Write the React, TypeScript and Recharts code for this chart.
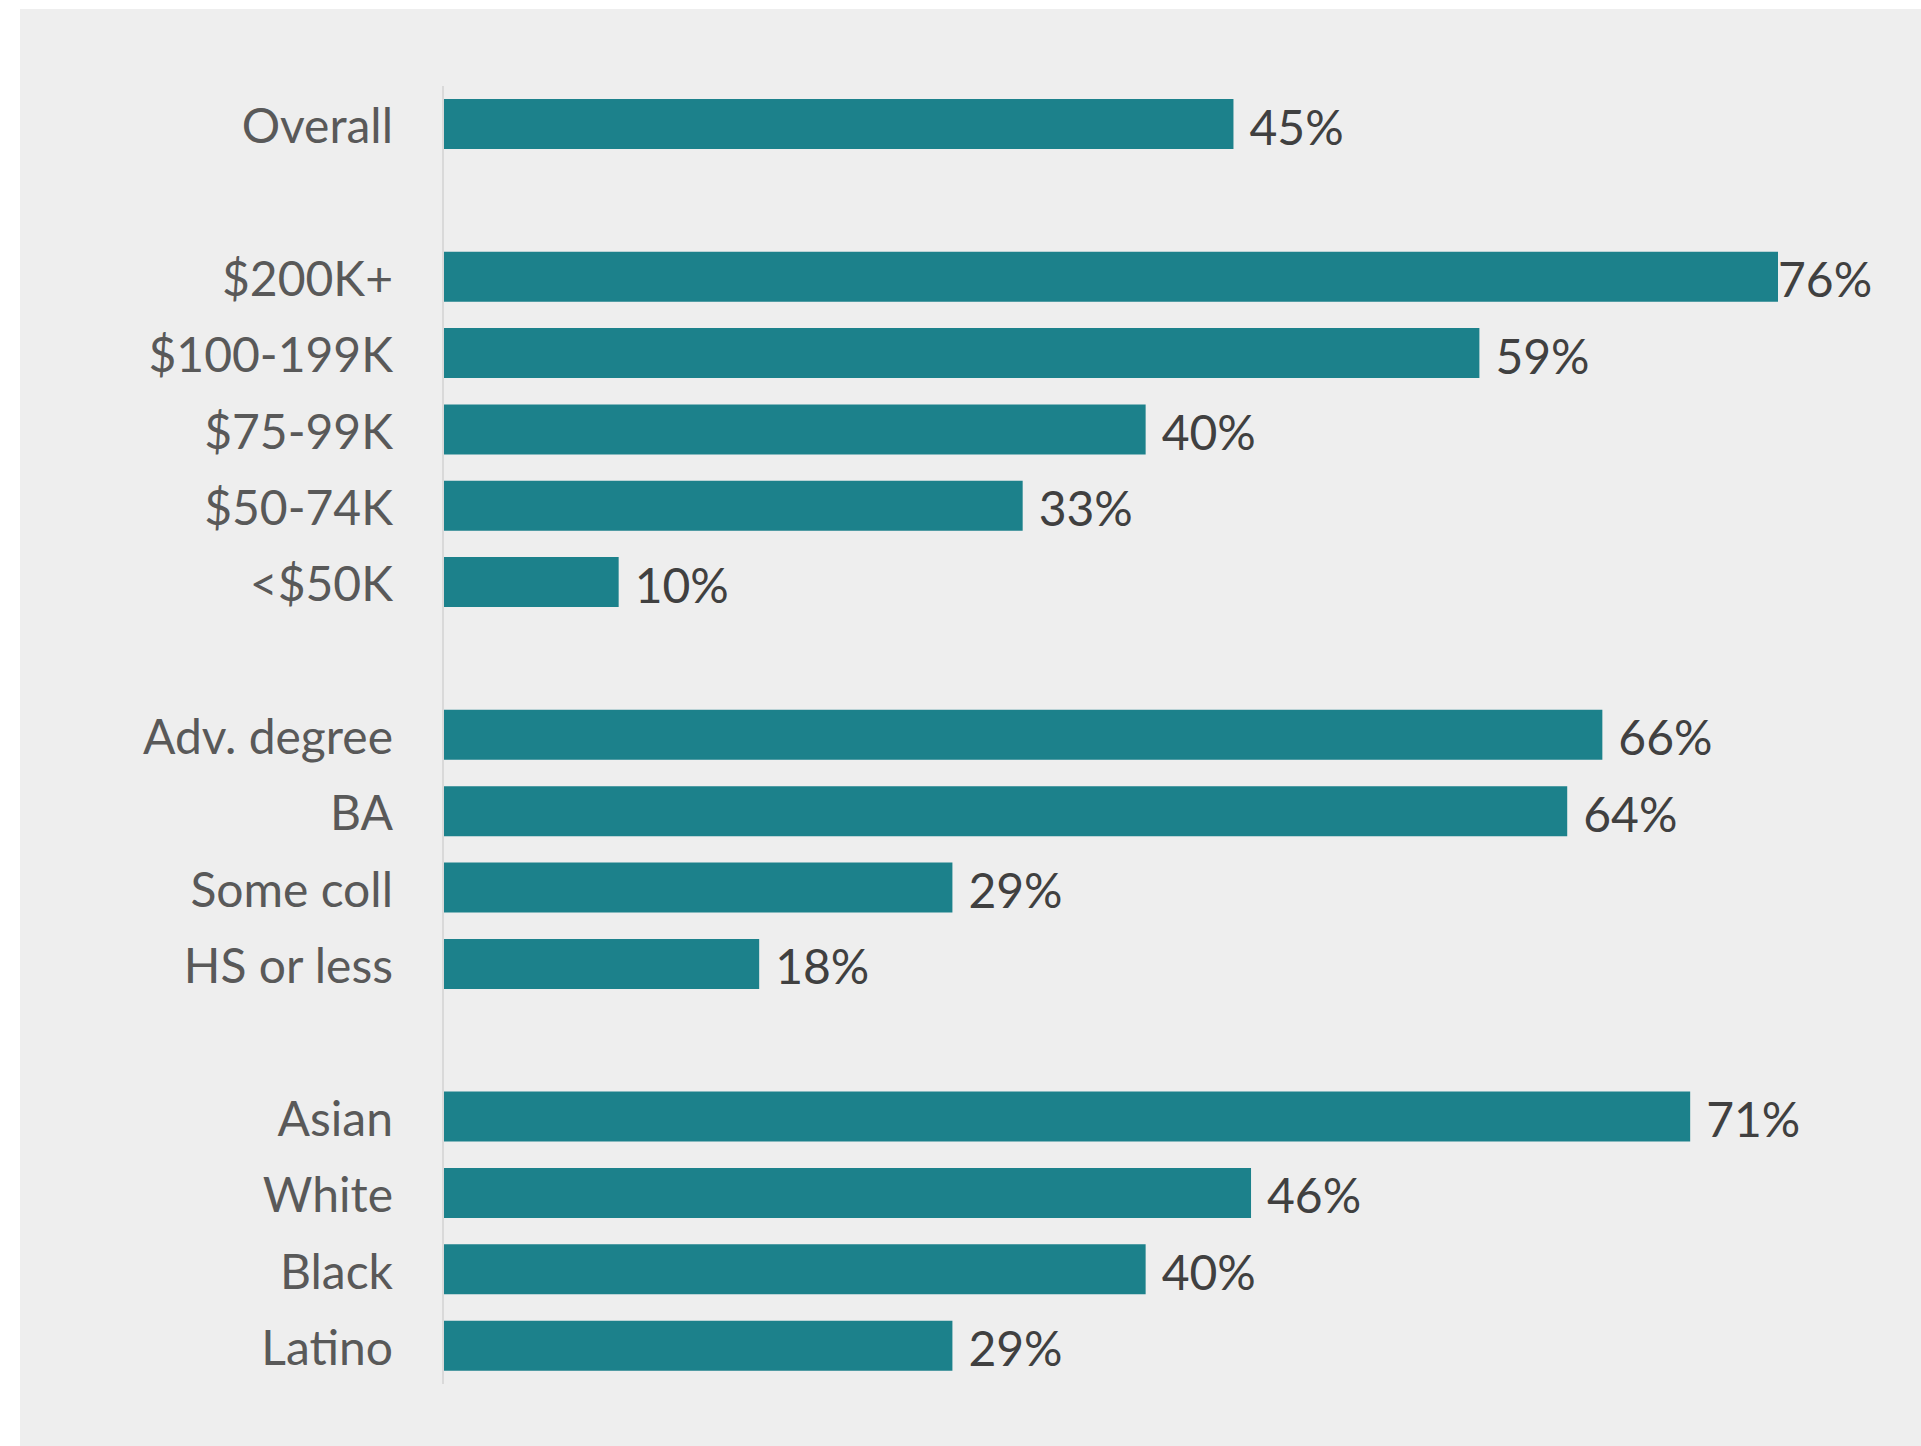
import React from "react";
import { BarChart, Bar, XAxis, YAxis, LabelList } from "recharts";

// groups of categories, top to bottom, separated by an empty row
const overallLabels = ["Overall"];
const overallValues = [45];

const incomeLabels = ["$200K+", "$100-199K", "$75-99K", "$50-74K", "<$50K"];
const incomeValues = [76, 59, 40, 33, 10];

const educationLabels = ["Adv. degree", "BA", "Some coll", "HS or less"];
const educationValues = [66, 64, 29, 18];

const raceLabels = ["Asian", "White", "Black", "Latino"];
const raceValues = [71, 46, 40, 29];

const groups = [
    { labels: overallLabels, values: overallValues },
    { labels: incomeLabels, values: incomeValues },
    { labels: educationLabels, values: educationValues },
    { labels: raceLabels, values: raceValues },
];

type Row = { name: string; value: number | null };

const rows: Row[] = [];
groups.forEach((g, gi) => {
    if (gi > 0) rows.push({ name: " ".repeat(gi), value: null });
    g.labels.forEach((name, i) => rows.push({ name, value: g.values[i] }));
});

const CHART_W = 1901;
const CHART_H = 1437;
const FONT = "Lato, 'Open Sans', sans-serif";

// value label, kept inside the chart area like the original
const ValueLabel = (props: any) => {
    const { x, y, width, height, value } = props;
    if (value == null) return null;
    const lx = Math.min(x + width + 16, CHART_W - 143);
    return (
        <text
            x={lx}
            y={y + height / 2}
            dy={2}
            fill="#404040"
            fontSize={48}
            fontFamily={FONT}
            dominantBaseline="central"
        >
            {`${value}%`}
        </text>
    );
};

export default function App() {
    return (
        <div style={{ width: 1921, height: 1446, background: "#fff", position: "relative" }}>
            <style>{`body{margin:0}`}</style>
            <div
                style={{
                    position: "absolute",
                    left: 20,
                    top: 9,
                    width: CHART_W,
                    height: CHART_H,
                    background: "#eeeeee",
                }}
            >
                <BarChart
                    width={CHART_W}
                    height={CHART_H}
                    data={rows}
                    layout="vertical"
                    margin={{ top: 77, right: 78, bottom: 62, left: 0 }}
                    barSize={50}
                >
                    <XAxis type="number" domain={[0, 79.7]} hide />
                    <YAxis
                        type="category"
                        dataKey="name"
                        width={423}
                        axisLine={{ stroke: "#d9d9d9", strokeWidth: 2 }}
                        tickLine={false}
                        tickSize={0}
                        tickMargin={50}
                        interval={0}
                        tick={{ fill: "#595959", fontSize: 48, fontFamily: FONT, dy: 2 }}
                    />
                    <Bar dataKey="value" fill="#1c818b" isAnimationActive={false}>
                        <LabelList dataKey="value" content={ValueLabel} />
                    </Bar>
                </BarChart>
            </div>
        </div>
    );
}
